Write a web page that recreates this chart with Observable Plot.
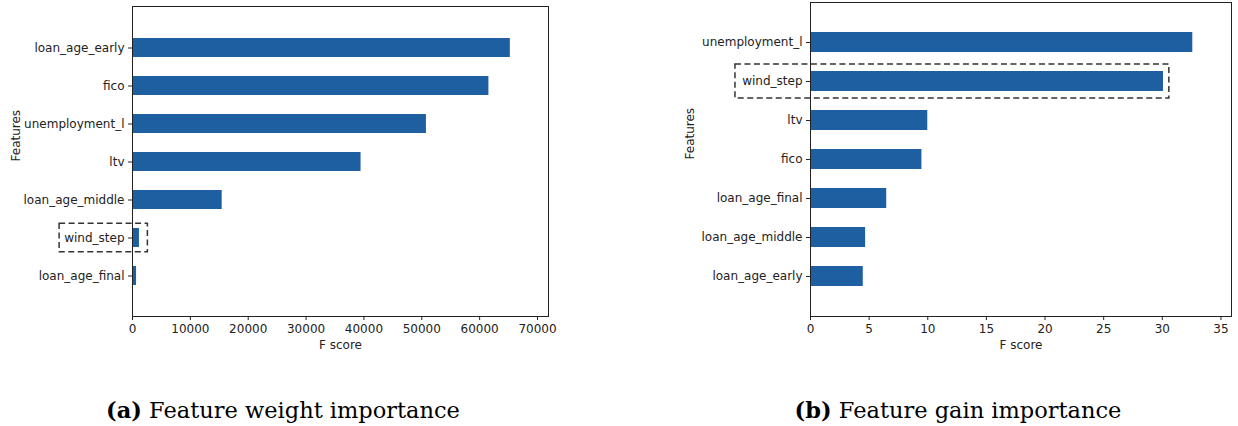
<!DOCTYPE html>
<html>
<head>
<meta charset="utf-8">
<script src="https://cdn.jsdelivr.net/npm/d3@7"></script>
<script src="https://cdn.jsdelivr.net/npm/@observablehq/plot@0.6"></script>
<style>
  body { margin: 0; background: #fff; }
  #fig { position: relative; width: 1238px; height: 426px; overflow: hidden; background: #fff; }
  .panel { position: absolute; top: 0; }
  .caption {
    position: absolute; top: 399px;
    font-family: "DejaVu Serif", serif; font-size: 22.5px; line-height: 22.5px;
    white-space: nowrap; transform: translateX(-50%); color: #000;
  }
  .caption b { font-weight: bold; }
</style>
</head>
<body>
<div id="fig">
  <div class="panel" id="weight" style="left:0px"></div>
  <div class="panel" id="gain" style="left:680px"></div>
  <div class="caption" style="left:283px"><b>(a)</b> Feature weight importance</div>
  <div class="caption" style="left:958px"><b>(b)</b> Feature gain importance</div>
</div>
<script>
// Feature importance by split count ("weight")
const weightFeatures = ["loan_age_early", "fico", "unemployment_l", "ltv", "loan_age_middle", "wind_step", "loan_age_final"];
const weightScores = [65300, 61600, 50800, 39500, 15500, 1200, 700];
const weightTicks = [0, 10000, 20000, 30000, 40000, 50000, 60000, 70000];
const weightMax = 71900;

// Feature importance by average gain
const gainFeatures = ["unemployment_l", "wind_step", "ltv", "fico", "loan_age_final", "loan_age_middle", "loan_age_early"];
const gainScores = [32.6, 30.1, 10.0, 9.5, 6.5, 4.7, 4.5];
const gainTicks = [0, 5, 10, 15, 20, 25, 30, 35];
const gainMax = 35.9;

// Highlighted feature, boxed with a dashed outline (extent in score units)
const highlightFeature = "wind_step";
const weightHighlight = [-12600, 2660];
const gainHighlight = [-6.4, 30.6];

const barColor = "#1e5fa2";
const ink = "#222";

function importancePanel({features, scores, ticks, max, highlight, width, marginLeft, marginRight, marginTop, boxInset, ylabelDx}) {
  const rows = features.map((f, i) => ({feature: f, score: scores[i]}));
  return Plot.plot({
    width,
    height: 365,
    marginLeft,
    marginRight,
    marginTop,
    marginBottom: 49,
    style: {fontFamily: "'DejaVu Sans', sans-serif", fontSize: "12px", color: ink, background: "transparent", overflow: "visible"},
    x: {domain: [0, max]},
    y: {domain: features, paddingInner: 0.5, paddingOuter: 0.75, align: 0.5},
    marks: [
      Plot.barX(rows, {x: "score", y: "feature", fill: barColor}),
      Plot.barX([{feature: highlightFeature, x1: highlight[0], x2: highlight[1]}], {
        x1: "x1", x2: "x2", y: "feature",
        fill: "none", stroke: "#333", strokeWidth: 1.5, strokeDasharray: "6,3.5",
        insetTop: -boxInset, insetBottom: -boxInset
      }),
      Plot.frame({stroke: ink, strokeWidth: 1}),
      Plot.axisX({ticks, tickSize: 4, tickPadding: 4, tickFormat: d3.format("d"), label: null}),
      Plot.axisY({tickSize: 4, tickPadding: 4, label: null}),
      Plot.text(["F score"], {frameAnchor: "bottom", dy: 32, fill: ink}),
      Plot.text(["Features"], {frameAnchor: "left", dx: ylabelDx, rotate: -90, fill: ink})
    ]
  });
}

document.getElementById("weight").append(importancePanel({
  features: weightFeatures, scores: weightScores, ticks: weightTicks, max: weightMax,
  highlight: weightHighlight, width: 560, marginLeft: 132, marginRight: 12, marginTop: 6,
  boxInset: 4.8, ylabelDx: -116
}));

document.getElementById("gain").append(importancePanel({
  features: gainFeatures, scores: gainScores, ticks: gainTicks, max: gainMax,
  highlight: gainHighlight, width: 558, marginLeft: 130, marginRight: 7, marginTop: 2,
  boxInset: 7, ylabelDx: -120
}));
</script>
</body>
</html>
